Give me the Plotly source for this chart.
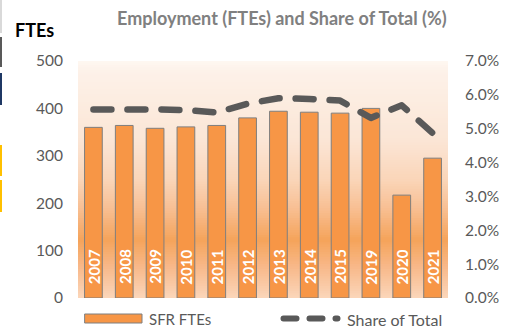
import plotly.graph_objects as go

# ---- data ----
years = ["2007", "2008", "2009", "2010", "2011", "2012",
         "2013", "2014", "2015", "2019", "2020", "2021"]
sfr_ftes = [360, 364, 358, 361, 364, 380, 394, 392, 390, 400, 217, 295]
share_of_total = [0.0557, 0.0558, 0.0557, 0.0555, 0.0548, 0.0574,
                  0.0590, 0.0588, 0.0583, 0.0532, 0.0569, 0.0487]
fte_ticks = [0, 100, 200, 300, 400, 500]
share_ticks = [0.0, 0.01, 0.02, 0.03, 0.04, 0.05, 0.06, 0.07]

# ---- layout geometry (pixels) ----
W_FIG, H_FIG = 512, 329
L, R, T, B = 78, 448, 61, 298
PW, PH = R - L, B - T

FONT = "Lato"
GREY = "#595959"
BAR_FILL = "#F79646"
BAR_EDGE = "#7F7F7F"


def px_x(px):
    return (px - L) / PW


def px_y(py):
    return (B - py) / PH


def hexrgb(h):
    h = h.lstrip("#")
    return tuple(int(h[i:i + 2], 16) for i in (0, 2, 4))


# vertical background gradient (value on FTE axis -> colour)
grad_stops = [(0, "#FBD6BA"), (65, "#F8B98A"), (122, "#F5A35A"),
              (192, "#F8C095"), (249, "#FAD5B8"), (333, "#FBE6D6"),
              (475, "#FDF1E8"), (512, "#FFFAF6")]


def grad_color(v):
    for (a, ca), (b, cb) in zip(grad_stops, grad_stops[1:]):
        if a <= v <= b:
            t = (v - a) / (b - a)
            r0, g0, b0 = hexrgb(ca)
            r1, g1, b1 = hexrgb(cb)
            return "rgb(%d,%d,%d)" % (round(r0 + (r1 - r0) * t),
                                      round(g0 + (g1 - g0) * t),
                                      round(b0 + (b1 - b0) * t))
    return grad_stops[-1][1]


shapes = []
n_bands = 100
top_val = 512
for i in range(n_bands):
    y0 = top_val * i / n_bands
    y1 = top_val * (i + 1) / n_bands
    # each band overlaps the next one so no seams show between them
    shapes.append(dict(type="rect", xref="paper", yref="y", x0=0, x1=1,
                       y0=y0, y1=y1 + 6, fillcolor=grad_color((y0 + y1) / 2),
                       line=dict(width=0), layer="below"))

# thin coloured strips at the left page edge
for (y0, y1, c) in [(0, 33, "#D9D9D9"), (37, 67, "#595959"), (73, 105, "#1F3864"),
                    (145, 176, "#FFC000"), (180, 212, "#FFC000")]:
    shapes.append(dict(type="rect", xref="paper", yref="paper",
                       x0=px_x(0), x1=px_x(2), y0=px_y(y1), y1=px_y(y0),
                       fillcolor=c, line=dict(width=0), layer="above"))

# legend: bar swatch and dashed line sample
shapes.append(dict(type="rect", xref="paper", yref="paper",
                   x0=px_x(85), x1=px_x(142), y0=px_y(323), y1=px_y(314),
                   fillcolor=BAR_FILL, line=dict(color=BAR_EDGE, width=1), layer="above"))
shapes.append(dict(type="line", xref="paper", yref="paper",
                   x0=px_x(283.5), x1=px_x(337.5), y0=px_y(318.5), y1=px_y(318.5),
                   line=dict(color=GREY, width=6, dash="13px,13px"), layer="above"))

fig = go.Figure()

fig.add_trace(go.Bar(
    x=years, y=sfr_ftes, name="SFR FTEs",
    marker=dict(color=BAR_FILL, line=dict(color=BAR_EDGE, width=1)),
    width=0.575, yaxis="y", showlegend=False,
))

fig.add_trace(go.Scatter(
    x=years, y=share_of_total, name="Share of Total", mode="lines",
    line=dict(color=GREY, width=6.5, dash="18px,16px"),
    yaxis="y2", showlegend=False,
))

annotations = []
# year labels inside the bars (category positions given by index)
for i, yr in enumerate(years):
    annotations.append(dict(x=i, y=66, xref="x", yref="y", text="<b>%s</b>" % yr,
                            showarrow=False, textangle=-90,
                            font=dict(family=FONT, size=15, color="white"),
                            xanchor="center", yanchor="middle"))

annotations += [
    dict(x=px_x(281.5), y=px_y(18), xref="paper", yref="paper",
         text="<b>Employment (FTEs) and Share of Total (%)</b>", showarrow=False,
         font=dict(family=FONT, size=18, color="#808080"),
         xanchor="center", yanchor="middle"),
    dict(x=px_x(34.5), y=px_y(30), xref="paper", yref="paper",
         text="<b>FTEs</b>", showarrow=False,
         font=dict(family=FONT, size=18, color="black"),
         xanchor="center", yanchor="middle"),
    dict(x=px_x(147), y=px_y(319), xref="paper", yref="paper",
         text="SFR FTEs", showarrow=False,
         font=dict(family=FONT, size=15, color=GREY),
         xanchor="left", yanchor="middle"),
    dict(x=px_x(345), y=px_y(319), xref="paper", yref="paper",
         text="Share of Total", showarrow=False,
         font=dict(family=FONT, size=16, color=GREY),
         xanchor="left", yanchor="middle"),
]

fig.update_layout(
    width=W_FIG, height=H_FIG,
    margin=dict(l=L, r=W_FIG - R, t=T, b=H_FIG - B, pad=0),
    paper_bgcolor="white", plot_bgcolor="rgba(0,0,0,0)",
    font=dict(family=FONT, size=15, color=GREY),
    showlegend=False,
    xaxis=dict(type="category", range=[-0.5, len(years) - 0.5],
               showticklabels=False, showgrid=False,
               zeroline=False, showline=False, ticks=""),
    yaxis=dict(range=[0, 500], tickvals=fte_ticks, showgrid=False, zeroline=False,
               showline=False, ticks="", ticklabelstandoff=14,
               tickfont=dict(family=FONT, size=15.5, color=GREY)),
    yaxis2=dict(range=[0, 0.07], tickvals=share_ticks, tickformat=".1%",
                overlaying="y", side="right", showgrid=False, zeroline=False,
                showline=False, ticks="", ticklabelstandoff=16,
                tickfont=dict(family=FONT, size=15.5, color=GREY)),
    shapes=shapes, annotations=annotations,
)

round_caps = """
var gd = document.getElementById('{plot_id}');
gd.querySelectorAll('path.js-line, .shapelayer path').forEach(function(p){
    p.style.strokeLinecap = 'round';
    p.style.strokeLinejoin = 'round';
});
"""

fig.write_html("out.html", post_script=round_caps)
